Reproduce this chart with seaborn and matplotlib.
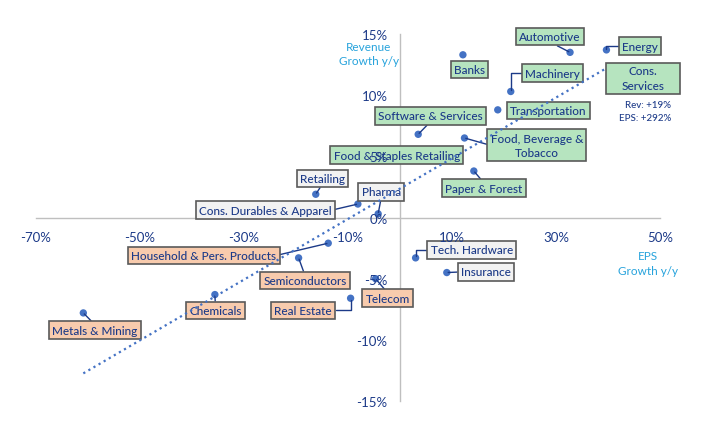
import matplotlib
matplotlib.use("Agg")
import matplotlib.pyplot as plt
import seaborn as sns
import pandas as pd
from matplotlib.patches import Rectangle
from matplotlib.ticker import FuncFormatter

# --- data (EPS growth y/y, revenue growth y/y, in %) ---
sectors = ["Automotive", "Energy", "Banks", "Machinery", "Transportation",
           "Software & Services", "Food, Beverage &\nTobacco", "Food & Staples Retailing",
           "Paper & Forest", "Retailing", "Cons. Durables & Apparel", "Pharma",
           "Household & Pers. Products", "Semiconductors", "Chemicals",
           "Metals & Mining", "Real Estate", "Telecom", "Tech. Hardware", "Insurance"]
eps_growth = [32.7, 39.7, 12.1, 21.3, 18.8, 3.5, 12.4, 2.0, 14.2, -16.2, -8.1, -4.2,
              -13.8, -19.5, -35.6, -60.9, -9.5, -4.7, 3.0, 9.0]
rev_growth = [13.5, 13.7, 13.3, 10.3, 8.8, 6.8, 6.5, 5.2, 3.8, 1.9, 1.1, 0.3,
              -2.1, -3.3, -6.3, -7.8, -6.6, -5.0, -3.3, -4.5]
groups = ["up", "up", "up", "up", "up", "up", "up", "up", "up", "mid", "mid", "mid",
          "down", "down", "down", "down", "down", "down", "mid", "mid"]

# off-scale sector, shown as a note only
outlier_name = "Cons.\nServices"
outlier_rev = 19
outlier_eps = 292

x_ticks = [-70, -50, -30, -10, 10, 30, 50]
y_ticks = [-15, -10, -5, 0, 5, 10, 15]

df = pd.DataFrame({"sector": sectors, "eps": eps_growth, "rev": rev_growth, "group": groups})

# --- layout: label centre (data coords), leader anchor on the box, connector style ---
layout = {
    "Automotive": (28.8, 14.8, (0.5, 0), None),
    "Energy": (46.2, 14.0, (0, 0.5), "angle,angleA=0,angleB=90,rad=0"),
    "Banks": (13.4, 12.1, None, None),
    "Machinery": (29.3, 11.8, (0, 0.5), "angle,angleA=0,angleB=90,rad=0"),
    "Transportation": (28.5, 8.75, None, None),
    "Software & Services": (5.9, 8.3, (0.5, 0), None),
    "Food, Beverage &\nTobacco": (26.3, 5.9, (0, 0.5), None),
    "Food & Staples Retailing": (-0.6, 5.1, None, None),
    "Paper & Forest": (16.1, 2.4, (0.5, 1), None),
    "Retailing": (-14.9, 3.2, (0.5, 0), None),
    "Cons. Durables & Apparel": (-25.9, 0.6, (1, 0.5), None),
    "Pharma": (-3.6, 2.1, (0.5, 0), None),
    "Household & Pers. Products": (-37.7, -3.1, (1, 0.5), None),
    "Semiconductors": (-18.3, -5.15, (0.5, 1), None),
    "Chemicals": (-35.5, -7.6, (0.5, 1), None),
    "Metals & Mining": (-58.7, -9.2, (0.5, 1), None),
    "Real Estate": (-18.6, -7.6, (1, 0.5), "angle,angleA=0,angleB=90,rad=0"),
    "Telecom": (-2.4, -6.6, (0.5, 1), None),
    "Tech. Hardware": (13.8, -2.65, (0, 0.5), "angle,angleA=0,angleB=90,rad=0"),
    "Insurance": (16.5, -4.45, (0, 0.5), None),
}

box_colors = {"up": "#b6e4bf", "mid": "#f2f2f2", "down": "#f8cbad"}
navy = "#1c3a88"
dot_blue = "#4472c4"
title_blue = "#27a3dc"
edge = "#5a5a5a"

sns.set_theme(style="white")
plt.rcParams["font.family"] = ["Lato", "DejaVu Sans"]

fig = plt.figure(figsize=(7.14, 4.27), dpi=100)
ax = fig.add_axes([36 / 714, 1 - 402 / 427, 624 / 714, 367 / 427])

# trend line = linear fit of the plotted sectors
sns.regplot(data=df, x="eps", y="rev", scatter=False, ci=None, truncate=True,
            line_kws=dict(color=dot_blue, lw=1.6, ls=":", zorder=6), ax=ax)
sns.scatterplot(data=df, x="eps", y="rev", color=dot_blue, s=28, edgecolor="none",
                zorder=2, ax=ax, legend=False)

for _, row in df.iterrows():
    lx, ly, rel, conn = layout[row["sector"]]
    bbox = dict(boxstyle="square,pad=0.28", fc=box_colors[row["group"]], ec=edge, lw=1.2)
    kw = {}
    if rel is not None:
        kw["arrowprops"] = dict(arrowstyle="-", color=navy, lw=1.0, relpos=rel,
                                shrinkA=0, shrinkB=1,
                                connectionstyle=conn or "arc3")
    ax.annotate(row["sector"], xy=(row["eps"], row["rev"]), xytext=(lx, ly),
                ha="center", va="center", fontsize=8.5, color=navy, fontweight="medium",
                bbox=bbox, zorder=4, linespacing=1.35, **kw)

# off-scale sector label (wide box) and note
ax.add_patch(Rectangle((39.7, 10.12), 14.2, 2.52, fc=box_colors["up"], ec=edge, lw=1.2,
                       zorder=3.5, clip_on=False))
ax.text(46.8, 11.4, outlier_name, ha="center", va="center", fontsize=8.5, color=navy,
        fontweight="medium", linespacing=1.35, zorder=4)
ax.text(52.1, 8.7, f"Rev: +{outlier_rev}%\nEPS: +{outlier_eps}%", ha="right", va="center",
        fontsize=7, color=navy, fontweight="medium", linespacing=1.45, zorder=4)

# axis titles
ax.text(-5.96, 13.4, "Revenue\nGrowth y/y", ha="center", va="center", fontsize=8.5,
        color=title_blue, linespacing=1.4)
ax.text(47.7, -3.7, "EPS\nGrowth y/y", ha="center", va="center", fontsize=8.5,
        color=title_blue, linespacing=1.4)

# axes crossing at the origin
ax.set_xlim(-70, 50)
ax.set_ylim(-15, 15)
for side in ["top", "right"]:
    ax.spines[side].set_visible(False)
ax.spines["left"].set_position("zero")
ax.spines["bottom"].set_position("zero")
for side in ["left", "bottom"]:
    ax.spines[side].set_color("#bfbfbf")
    ax.spines[side].set_linewidth(1.0)
    ax.spines[side].set_zorder(1)

ax.set_xticks(x_ticks)
ax.set_yticks(y_ticks)
pct = FuncFormatter(lambda v, _: f"{v:.0f}%")
ax.xaxis.set_major_formatter(pct)
ax.yaxis.set_major_formatter(pct)
ax.tick_params(axis="x", length=0, pad=10, labelsize=9.5, labelcolor=navy)
ax.tick_params(axis="y", length=0, pad=9, labelsize=9.5, labelcolor=navy)
ax.xaxis.set_zorder(5)
ax.yaxis.set_zorder(5)
ax.set_xlabel("")
ax.set_ylabel("")
ax.grid(False)
ax.patch.set_alpha(0)

fig.savefig("out.png", dpi=100)
